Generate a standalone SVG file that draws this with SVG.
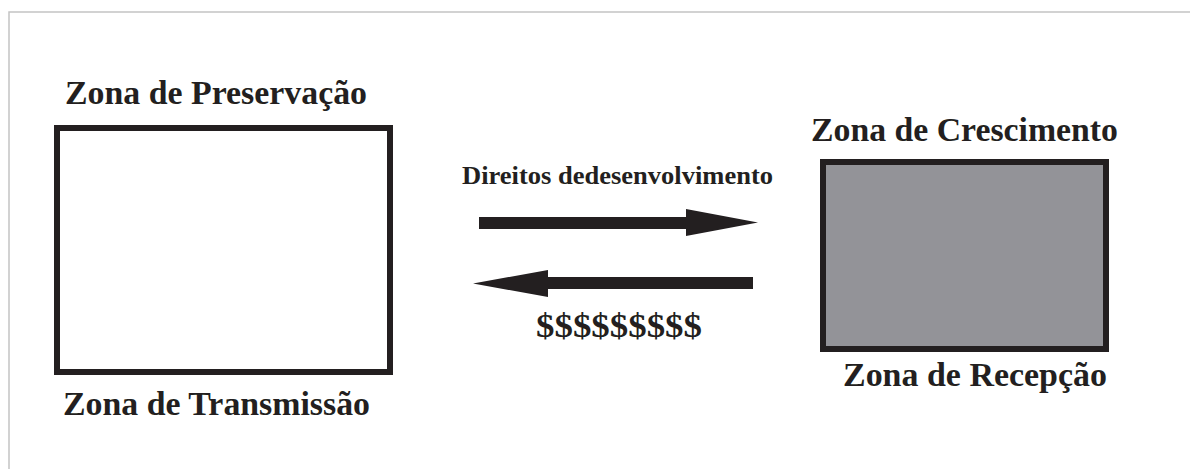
<svg xmlns="http://www.w3.org/2000/svg" width="1190" height="469" viewBox="0 0 1190 469">
  <style>
    .frame { fill: none; stroke: #c4c4c4; stroke-width: 1.5; }
    .zone { stroke: #231f20; stroke-width: 6; }
    .label { font-family: 'Liberation Serif', 'Times New Roman', Times, serif; font-weight: 700; fill: #231f20; }
    .big { font-size: 34px; }
    .small { font-size: 26px; }
    .arrow { fill: #231f20; }
  </style>
  <rect width="1190" height="469" fill="#ffffff"/>
  <!-- page frame (top and left edges) -->
  <path class="frame" d="M9,469 V12 H1190"/>

  <g id="zona-preservacao">
    <text class="label big" x="65" y="104" textLength="302" lengthAdjust="spacingAndGlyphs">Zona de Preservação</text>
    <rect class="zone" x="57" y="128" width="333" height="244" fill="#ffffff"/>
    <text class="label big" x="63" y="415" textLength="307" lengthAdjust="spacingAndGlyphs">Zona de Transmissão</text>
  </g>

  <g id="zona-crescimento">
    <text class="label big" x="811" y="141" textLength="307" lengthAdjust="spacingAndGlyphs">Zona de Crescimento</text>
    <rect class="zone" x="823" y="162" width="283" height="187" fill="#939398"/>
    <text class="label big" x="843" y="386" textLength="264" lengthAdjust="spacingAndGlyphs">Zona de Recepção</text>
  </g>

  <g id="connectors">
    <text class="label small" x="462" y="184" textLength="311" lengthAdjust="spacingAndGlyphs">Direitos dedesenvolvimento</text>
    <polygon class="arrow" points="479,217 686,217 686,209 758,222.5 686,236 686,229 479,229"/>
    <polygon class="arrow" points="753,277 548,277 548,270 473,283.5 548,297 548,289 753,289"/>
    <text class="label big" x="536" y="337" textLength="166" lengthAdjust="spacingAndGlyphs">$$$$$$$$$</text>
  </g>
</svg>
